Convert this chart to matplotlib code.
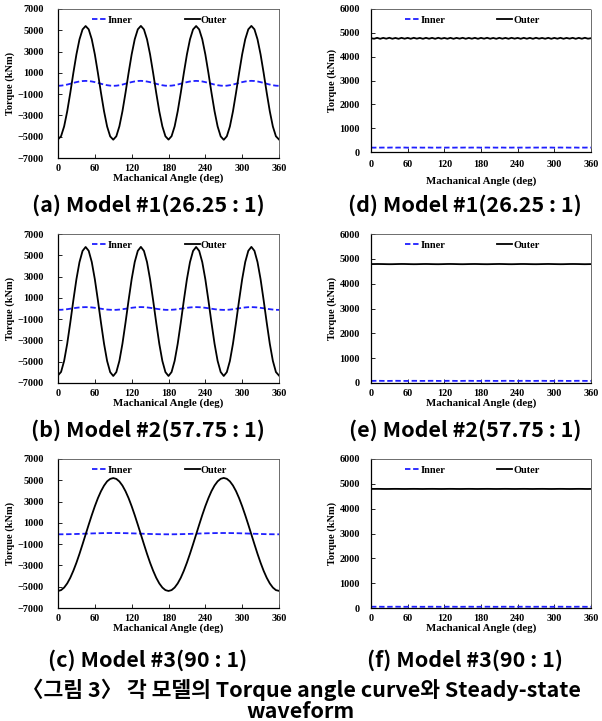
import numpy as np
import matplotlib
matplotlib.use("Agg")
import matplotlib.pyplot as plt

# mechanical angle sample points (deg)
angle = np.arange(0, 361, 5)

# ---- torque angle curve (left column), kNm ----
a_outer = [-5250, -4950, -4030, -2620, -880, 990, 2730, 4150, 5080, 5400, 5090, 4160, 2740, 990, -870, -2610, -4040, -4970,
           -5280, -4960, -4020, -2600, -860, 1000, 2740, 4160, 5090, 5410, 5080, 4150, 2730, 980, -880, -2620, -4030, -4960,
           -5270, -4950, -4030, -2610, -870, 990, 2730, 4150, 5080, 5400, 5080, 4160, 2740, 1000, -860, -2600, -4030, -4970,
           -5290, -4960, -4040, -2620, -870, 990, 2740, 4160, 5090, 5410, 5090, 4150, 2730, 990, -870, -2610, -4040, -4960,
           -5260]
a_inner = [-215, -200, -160, -100, -25, 55, 130, 190, 230, 245, 230, 190, 130, 55, -25, -100, -160, -200,
           -220, -205, -165, -100, -20, 60, 135, 195, 235, 250, 230, 185, 125, 50, -30, -105, -165, -205,
           -215, -200, -160, -95, -20, 55, 130, 190, 230, 245, 230, 190, 130, 55, -25, -100, -160, -200,
           -220, -205, -160, -100, -25, 55, 130, 190, 235, 250, 235, 190, 130, 55, -25, -100, -165, -205,
           -220]

b_outer = [-6280, -5960, -4920, -3310, -1330, 770, 2750, 4360, 5410, 5780, 5420, 4370, 2750, 770, -1330, -3310, -4930, -5980,
           -6340, -5980, -4920, -3300, -1320, 780, 2760, 4370, 5420, 5790, 5410, 4360, 2740, 760, -1340, -3320, -4930, -5980,
           -6340, -5970, -4920, -3310, -1330, 770, 2750, 4360, 5410, 5780, 5410, 4360, 2750, 770, -1330, -3310, -4920, -5970,
           -6340, -5980, -4930, -3310, -1330, 770, 2750, 4370, 5420, 5790, 5420, 4360, 2750, 770, -1330, -3310, -4920, -5970,
           -6300]
b_inner = [-125, -120, -100, -65, -20, 25, 65, 100, 120, 130, 120, 100, 65, 25, -20, -65, -100, -120,
           -130, -125, -100, -65, -25, 20, 65, 100, 125, 135, 125, 100, 65, 20, -25, -65, -100, -125,
           -130, -120, -100, -65, -20, 25, 65, 100, 120, 130, 120, 100, 65, 25, -20, -65, -100, -120,
           -130, -125, -105, -70, -25, 20, 65, 100, 125, 130, 120, 100, 60, 20, -25, -65, -100, -125,
           -130]

c_outer = [-5400, -5320, -5080, -4690, -4160, -3500, -2750, -1910, -1010, -90, 830, 1720, 2560, 3320, 3970, 4500, 4900, 5130,
           5210, 5130, 4890, 4500, 3970, 3320, 2560, 1720, 830, -90, -1010, -1910, -2750, -3500, -4160, -4690, -5080, -5320,
           -5400, -5320, -5080, -4690, -4160, -3500, -2740, -1900, -1010, -90, 830, 1730, 2570, 3320, 3980, 4510, 4900, 5140,
           5220, 5140, 4900, 4510, 3980, 3320, 2560, 1720, 830, -90, -1010, -1910, -2750, -3510, -4160, -4690, -5080, -5320,
           -5390]
c_inner = [-75, -74, -71, -67, -61, -54, -45, -36, -25, -15, -5, 6, 15, 24, 31, 37, 41, 44,
           45, 44, 41, 37, 31, 24, 15, 6, -5, -15, -25, -36, -45, -54, -61, -67, -71, -74,
           -76, -75, -72, -67, -61, -53, -45, -35, -25, -14, -4, 6, 16, 24, 31, 37, 42, 44,
           46, 44, 41, 37, 30, 23, 15, 5, -5, -15, -26, -36, -45, -54, -61, -67, -71, -74,
           -75]

# ---- steady-state waveform (right column), kNm ----
d_outer = [4775, 4752, 4790, 4750, 4788, 4755, 4792, 4752, 4786, 4750, 4790, 4754, 4788, 4751, 4791, 4756, 4787, 4750,
           4790, 4753, 4789, 4750, 4792, 4755, 4786, 4752, 4790, 4750, 4788, 4756, 4791, 4751, 4787, 4754, 4790, 4750,
           4789, 4755, 4792, 4752, 4786, 4750, 4790, 4754, 4788, 4751, 4791, 4756, 4787, 4750, 4790, 4753, 4789, 4750,
           4792, 4755, 4786, 4752, 4790, 4750, 4788, 4754, 4791, 4751, 4787, 4756, 4790, 4750, 4789, 4753, 4792, 4755,
           4775]
d_inner = [185, 182, 187, 184, 186, 181, 185, 188, 183, 186, 184, 187, 182, 185, 188, 184, 186, 183,
           185, 187, 182, 186, 184, 188, 183, 185, 187, 182, 186, 184, 185, 188, 183, 186, 184, 187,
           182, 185, 188, 184, 186, 183, 185, 187, 182, 186, 184, 188, 183, 185, 187, 182, 186, 184,
           185, 188, 183, 186, 184, 187, 182, 185, 188, 184, 186, 183, 185, 187, 182, 186, 184, 188,
           185]

e_outer = [4788, 4790, 4792, 4791, 4789, 4786, 4784, 4785, 4788, 4791, 4793, 4792, 4789, 4786, 4784, 4785, 4788, 4791,
           4792, 4790, 4787, 4785, 4784, 4786, 4789, 4792, 4793, 4791, 4788, 4785, 4784, 4786, 4789, 4791, 4792, 4790,
           4787, 4785, 4784, 4786, 4789, 4791, 4793, 4791, 4788, 4785, 4784, 4786, 4789, 4792, 4792, 4790, 4787, 4785,
           4784, 4786, 4789, 4791, 4793, 4791, 4788, 4786, 4784, 4785, 4788, 4791, 4792, 4791, 4789, 4786, 4784, 4786,
           4788]
e_inner = [85, 86, 88, 87, 85, 83, 84, 86, 88, 87, 85, 83, 84, 86, 88, 87, 85, 84,
           85, 87, 88, 86, 84, 83, 85, 87, 88, 86, 84, 83, 85, 87, 88, 86, 85, 84,
           85, 86, 88, 87, 85, 83, 84, 86, 88, 87, 85, 83, 84, 86, 88, 87, 85, 84,
           85, 87, 88, 86, 84, 83, 85, 87, 88, 86, 84, 83, 85, 87, 88, 86, 85, 84,
           85]

f_outer = [4795, 4796, 4797, 4796, 4794, 4793, 4794, 4796, 4797, 4796, 4794, 4793, 4794, 4796, 4797, 4796, 4794, 4793,
           4795, 4796, 4797, 4796, 4794, 4793, 4794, 4796, 4797, 4796, 4794, 4793, 4794, 4796, 4797, 4796, 4794, 4793,
           4795, 4796, 4797, 4796, 4794, 4793, 4794, 4796, 4797, 4796, 4794, 4793, 4794, 4796, 4797, 4796, 4794, 4793,
           4795, 4796, 4797, 4796, 4794, 4793, 4794, 4796, 4797, 4796, 4794, 4793, 4794, 4796, 4797, 4796, 4794, 4793,
           4795]
f_inner = [50, 51, 52, 51, 49, 48, 49, 51, 52, 51, 49, 48, 49, 51, 52, 51, 49, 48,
           50, 51, 52, 51, 49, 48, 49, 51, 52, 51, 49, 48, 49, 51, 52, 51, 49, 48,
           50, 51, 52, 51, 49, 48, 49, 51, 52, 51, 49, 48, 49, 51, 52, 51, 49, 48,
           50, 51, 52, 51, 49, 48, 49, 51, 52, 51, 49, 48, 49, 51, 52, 51, 49, 48,
           50]

x_ticks = [0, 60, 120, 180, 240, 300, 360]
left_yticks = [-7000, -5000, -3000, -1000, 1000, 3000, 5000, 7000]
right_yticks = [0, 1000, 2000, 3000, 4000, 5000, 6000]

captions_left = ["(a) Model #1(26.25 : 1)", "(b) Model #2(57.75 : 1)", "(c) Model #3(90 : 1)"]
captions_right = ["(d) Model #1(26.25 : 1)", "(e) Model #2(57.75 : 1)", "(f) Model #3(90 : 1)"]
fig_caption = "〈그림 3〉 각 모델의 Torque angle curve와 Steady-state\nwaveform"

W, H = 602, 721
SERIF = "Liberation Serif"
KR = ["Noto Sans CJK KR", "DejaVu Sans"]

fig = plt.figure(figsize=(W / 100, H / 100), dpi=100)


def px_axes(x0, y0, x1, y1):
    "axes from pixel box (top-left origin)"
    return fig.add_axes([x0 / W, 1 - y1 / H, (x1 - x0) / W, (y1 - y0) / H])


def style(ax, yticks, ylim, ypad, xpad, xlabelpad):
    ax.set_xlim(0, 360)
    ax.set_ylim(*ylim)
    ax.set_xticks(x_ticks)
    ax.set_yticks(yticks)
    ax.tick_params(direction="in", length=3, width=0.6, labelsize=7.3)
    ax.tick_params(axis="y", pad=ypad)
    ax.tick_params(axis="x", pad=xpad)
    for lab in ax.get_xticklabels() + ax.get_yticklabels():
        lab.set_family(SERIF)
        lab.set_weight("bold")
    for s in ["top", "right"]:
        ax.spines[s].set_linestyle((0, (1, 1)))
        ax.spines[s].set_linewidth(0.6)
        ax.spines[s].set_color("#555555")
    for s in ["left", "bottom"]:
        ax.spines[s].set_linewidth(0.9)
    ax.set_xlabel("Machanical Angle (deg)", family=SERIF, weight="bold", fontsize=7.8, labelpad=xlabelpad)
    ax.set_ylabel("Torque (kNm)", family=SERIF, weight="bold", fontsize=7.5, labelpad=2)
    leg = ax.legend(loc="upper center", bbox_to_anchor=(0.46, 1.02), ncol=2, frameon=False,
                    handlelength=1.4, handletextpad=0.1, columnspacing=5.0,
                    prop={"family": SERIF, "weight": "bold", "size": 7.5})
    return leg


left_boxes = [(58, 9, 279, 158), (58, 234, 279, 383), (58, 459, 279, 608)]
right_boxes = [(371, 9, 591, 152), (371, 234, 591, 383), (371, 459, 591, 608)]
left_data = [(a_inner, a_outer), (b_inner, b_outer), (c_inner, c_outer)]
right_data = [(d_inner, d_outer), (e_inner, e_outer), (f_inner, f_outer)]
caption_y = [205, 430, 660]

for i in range(3):
    ax = px_axes(*left_boxes[i])
    inner, outer = left_data[i]
    ax.plot(angle, inner, color="#1f1fff", linestyle=(0, (3, 1.5)), linewidth=1.3, label="Inner")
    ax.plot(angle, outer, color="black", linewidth=1.3, label="Outer")
    style(ax, left_yticks, (-7000, 7000), 10, 4, 0.3)

    ax = px_axes(*right_boxes[i])
    inner, outer = right_data[i]
    ax.plot(angle, inner, color="#1f1fff", linestyle=(0, (3, 1.5)), linewidth=1.3, label="Inner")
    ax.plot(angle, outer, color="black", linewidth=1.3, label="Outer")
    if i == 0:
        style(ax, right_yticks, (0, 6000), 8, 6, 5)
    else:
        style(ax, right_yticks, (0, 6000), 8, 4, 0.3)

    fig.text(148 / W, 1 - caption_y[i] / H, captions_left[i], ha="center", va="center",
             family=KR, weight="bold", fontsize=15.5)
    fig.text(465 / W, 1 - caption_y[i] / H, captions_right[i], ha="center", va="center",
             family=KR, weight="bold", fontsize=15.5)

fig.text(0.5, 1 - 700 / H, fig_caption, ha="center", va="center", family=KR, weight="bold",
         fontsize=15.5, linespacing=1.0)

fig.savefig("out.png", dpi=100)
